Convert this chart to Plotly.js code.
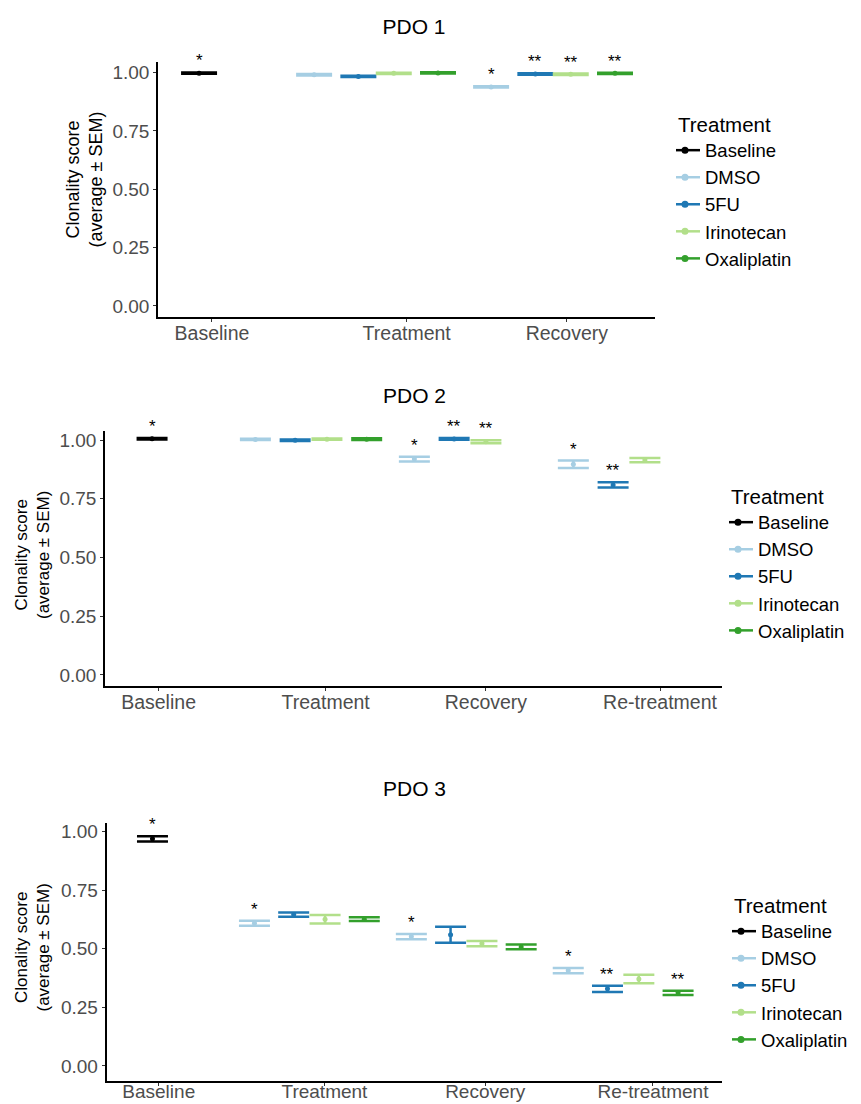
<!DOCTYPE html>
<html>
<head>
<meta charset="utf-8">
<script src="https://cdn.plot.ly/plotly-3.0.1.min.js"></script>
<style>html,body{margin:0;padding:0;background:#fff;}</style>
</head>
<body>
<div id="chart" style="width:861px;height:1104px;"></div>
<script>
// ---------------- DATA ----------------
const treatments = ["Baseline", "DMSO", "5FU", "Irinotecan", "Oxaliplatin"];
const phasesPDO1 = ["Baseline", "Treatment", "Recovery"];
const phasesPDO23 = ["Baseline", "Treatment", "Recovery", "Re-treatment"];
const panelTitles = ["PDO 1", "PDO 2", "PDO 3"];

// PDO 1 — mean clonality score per phase
const pdo1Baseline    = [0.998, null, null];
const pdo1DMSO        = [null, 0.991, 0.939];
const pdo1FU          = [null, 0.984, 0.994];
const pdo1Irinotecan  = [null, 0.997, 0.993];
const pdo1Oxaliplatin = [null, 0.999, 0.997];
// PDO 1 — SEM
const pdo1BaselineSem    = [0.003, null, null];
const pdo1DMSOSem        = [null, 0.003, 0.003];
const pdo1FUSem          = [null, 0.003, 0.003];
const pdo1IrinotecanSem  = [null, 0.003, 0.003];
const pdo1OxaliplatinSem = [null, 0.003, 0.003];
// PDO 1 — significance
const pdo1BaselineSig    = ["*", "", ""];
const pdo1DMSOSig        = ["", "", "*"];
const pdo1FUSig          = ["", "", "**"];
const pdo1IrinotecanSig  = ["", "", "**"];
const pdo1OxaliplatinSig = ["", "", "**"];

// PDO 2
const pdo2Baseline    = [1.006, null, null, null];
const pdo2DMSO        = [null, 1.003, 0.919, 0.897];
const pdo2FU          = [null, 0.999, 1.005, 0.809];
const pdo2Irinotecan  = [null, 1.004, 0.993, 0.915];
const pdo2Oxaliplatin = [null, 1.004, null, null];
const pdo2BaselineSem    = [0.003, null, null, null];
const pdo2DMSOSem        = [null, 0.003, 0.010, 0.016];
const pdo2FUSem          = [null, 0.003, 0.004, 0.011];
const pdo2IrinotecanSem  = [null, 0.003, 0.006, 0.009];
const pdo2OxaliplatinSem = [null, 0.004, null, null];
const pdo2BaselineSig    = ["*", "", "", ""];
const pdo2DMSOSig        = ["", "", "*", "*"];
const pdo2FUSig          = ["", "", "**", "**"];
const pdo2IrinotecanSig  = ["", "", "**", ""];
const pdo2OxaliplatinSig = ["", "", "", ""];

// PDO 3
const pdo3Baseline    = [0.969, null, null, null];
const pdo3DMSO        = [null, 0.609, 0.552, 0.407];
const pdo3FU          = [null, 0.646, 0.560, 0.329];
const pdo3Irinotecan  = [null, 0.626, 0.522, 0.371];
const pdo3Oxaliplatin = [null, 0.626, 0.508, 0.312];
const pdo3BaselineSem    = [0.011, null, null, null];
const pdo3DMSOSem        = [null, 0.011, 0.011, 0.011];
const pdo3FUSem          = [null, 0.009, 0.034, 0.013];
const pdo3IrinotecanSem  = [null, 0.018, 0.011, 0.018];
const pdo3OxaliplatinSem = [null, 0.008, 0.010, 0.009];
const pdo3BaselineSig    = ["*", "", "", ""];
const pdo3DMSOSig        = ["", "*", "*", "*"];
const pdo3FUSig          = ["", "", "", "**"];
const pdo3IrinotecanSig  = ["", "", "", ""];
const pdo3OxaliplatinSig = ["", "", "", "**"];

// ---------------- STYLE / LAYOUT ----------------
const colors = {Baseline: "#000000", DMSO: "#a6cee3", "5FU": "#1f78b4", Irinotecan: "#b2df8a", Oxaliplatin: "#33a02c"};
const dodge  = {Baseline: 0, DMSO: -0.35, "5FU": -0.1, Irinotecan: 0.1, Oxaliplatin: 0.35};
const FONT = "Liberation Sans, Arial, Helvetica, sans-serif";
const W = 861, H = 1104;
const fx = v => v / W;
const fy = v => 1 - v / H;

const panels = [
  {phases: phasesPDO1,
   mean: [pdo1Baseline, pdo1DMSO, pdo1FU, pdo1Irinotecan, pdo1Oxaliplatin],
   sem:  [pdo1BaselineSem, pdo1DMSOSem, pdo1FUSem, pdo1IrinotecanSem, pdo1OxaliplatinSem],
   sig:  [pdo1BaselineSig, pdo1DMSOSig, pdo1FUSig, pdo1IrinotecanSig, pdo1OxaliplatinSig],
   px: [158, 655], py: [61.7, 316.7], xr: [-0.232, 2.576], yr: [-0.046, 1.047],
   ticks: [0.073, 1.173, 2.078], cap: 18, titleY: 27, ytitle: [83.5, 180], ytSize: 18, leg: [676, 105],
   xstand: -5, xfont: 19.5},
  {phases: phasesPDO23,
   mean: [pdo2Baseline, pdo2DMSO, pdo2FU, pdo2Irinotecan, pdo2Oxaliplatin],
   sem:  [pdo2BaselineSem, pdo2DMSOSem, pdo2FUSem, pdo2IrinotecanSem, pdo2OxaliplatinSem],
   sig:  [pdo2BaselineSig, pdo2DMSOSig, pdo2FUSig, pdo2IrinotecanSig, pdo2OxaliplatinSig],
   px: [105, 722], py: [430.7, 686], xr: [-0.296, 3.585], yr: [-0.047, 1.040],
   ticks: [0.041, 1.092, 2.10, 3.195], cap: 15.5, titleY: 395, ytitle: [32, 555], ytSize: 17, leg: [729, 477],
   xstand: -5, xfont: 19.5},
  {phases: phasesPDO23,
   mean: [pdo3Baseline, pdo3DMSO, pdo3FU, pdo3Irinotecan, pdo3Oxaliplatin],
   sem:  [pdo3BaselineSem, pdo3DMSOSem, pdo3FUSem, pdo3IrinotecanSem, pdo3OxaliplatinSem],
   sig:  [pdo3BaselineSig, pdo3DMSOSig, pdo3FUSig, pdo3IrinotecanSig, pdo3OxaliplatinSig],
   px: [106.5, 722], py: [822.7, 1080.7], xr: [-0.293, 3.63], yr: [-0.063, 1.038],
   ticks: [0.04, 1.096, 2.121, 3.19], cap: 15.5, titleY: 788, ytitle: [31.5, 948], ytSize: 17, leg: [732, 886],
   xstand: -10, xfont: 19}
];

const traces = [];
const annotations = [];
const layout = {
  width: W, height: H,
  margin: {l: 0, r: 0, t: 0, b: 0},
  paper_bgcolor: "#ffffff", plot_bgcolor: "#ffffff",
  font: {family: FONT, color: "#000000"},
  showlegend: true,
  title: {text: panelTitles[0], x: fx(414), xanchor: "center", y: fy(panels[0].titleY), yanchor: "middle",
          font: {family: FONT, size: 21, color: "#000000"}}
};

panels.forEach((p, k) => {
  const sfx = k === 0 ? "" : String(k + 1);
  const xa = "x" + sfx, ya = "y" + sfx;
  const legName = "legend" + sfx;

  treatments.forEach((t, j) => {
    const m = p.mean[j], s = p.sem[j], g = p.sig[j];
    const xs = m.map((v, i) => v == null ? null : i + dodge[t]);
    traces.push({
      type: "scatter", mode: "markers", name: t,
      x: xs, y: m, xaxis: xa, yaxis: ya, showlegend: false,
      marker: {color: colors[t], size: 5},
      error_y: {type: "data", array: s.map(v => v == null ? 0 : v), visible: true,
                color: colors[t], thickness: 2.5, width: p.cap},
      hoverinfo: "x+y"
    });
    // legend entry
    traces.push({
      type: "scatter", mode: "lines+markers", name: t,
      x: [null], y: [null], xaxis: xa, yaxis: ya,
      legend: legName, showlegend: true,
      line: {color: colors[t], width: 2.5},
      marker: {color: colors[t], size: 7}
    });
    g.forEach((lbl, i) => {
      if (lbl && m[i] != null) {
        annotations.push({
          xref: xa, yref: ya, x: i + dodge[t], y: m[i] + (s[i] || 0),
          text: lbl, showarrow: false, xanchor: "center", yanchor: "bottom", yshift: 0,
          font: {family: FONT, size: 17, color: "#000000"}
        });
      }
    });
  });

  layout["xaxis" + sfx] = {
    domain: [fx(p.px[0]), fx(p.px[1])], range: p.xr, anchor: ya,
    tickmode: "array", tickvals: p.ticks, ticktext: p.phases,
    showgrid: false, zeroline: false, showline: true, linecolor: "#000000", linewidth: 1.8,
    ticks: "outside", ticklen: 3, tickwidth: 1, tickcolor: "#333333", ticklabelstandoff: p.xstand,
    tickfont: {family: FONT, size: p.xfont, color: "#4d4d4d"}, fixedrange: true
  };
  layout["yaxis" + sfx] = {
    domain: [fy(p.py[1]), fy(p.py[0])], range: p.yr, anchor: xa,
    tickmode: "array", tickvals: [0, 0.25, 0.5, 0.75, 1], ticktext: ["0.00", "0.25", "0.50", "0.75", "1.00"],
    showgrid: false, zeroline: false, showline: true, linecolor: "#000000", linewidth: 1.8,
    ticks: "outside", ticklen: 3, tickwidth: 1, tickcolor: "#333333",
    tickfont: {family: FONT, size: 19, color: "#4d4d4d"}, fixedrange: true
  };
  layout[legName] = {
    x: fx(p.leg[0]), y: fy(p.leg[1]), xanchor: "left", yanchor: "top",
    xref: "paper", yref: "paper",
    bgcolor: "rgba(0,0,0,0)", borderwidth: 0, indentation: -11, itemwidth: 30,
    font: {family: FONT, size: 18.5, color: "#000000"},
    title: {text: "Treatment", font: {family: FONT, size: 20.5, color: "#000000"}},
    itemclick: false, itemdoubleclick: false
  };
  // y-axis title (two lines)
  annotations.push({
    xref: "paper", yref: "paper", x: fx(p.ytitle[0]), y: fy(p.ytitle[1]),
    text: "Clonality score<br>(average ± SEM)", textangle: -90, showarrow: false,
    xanchor: "center", yanchor: "middle", align: "center",
    font: {family: FONT, size: p.ytSize, color: "#000000"}
  });
  if (k > 0) {
    annotations.push({
      xref: "paper", yref: "paper", x: fx(414), y: fy(p.titleY), text: panelTitles[k],
      showarrow: false, xanchor: "center", yanchor: "middle",
      font: {family: FONT, size: 21, color: "#000000"}
    });
  }
});

layout.annotations = annotations;
Plotly.newPlot("chart", traces, layout, {displayModeBar: false, staticPlot: true});
</script>
</body>
</html>
